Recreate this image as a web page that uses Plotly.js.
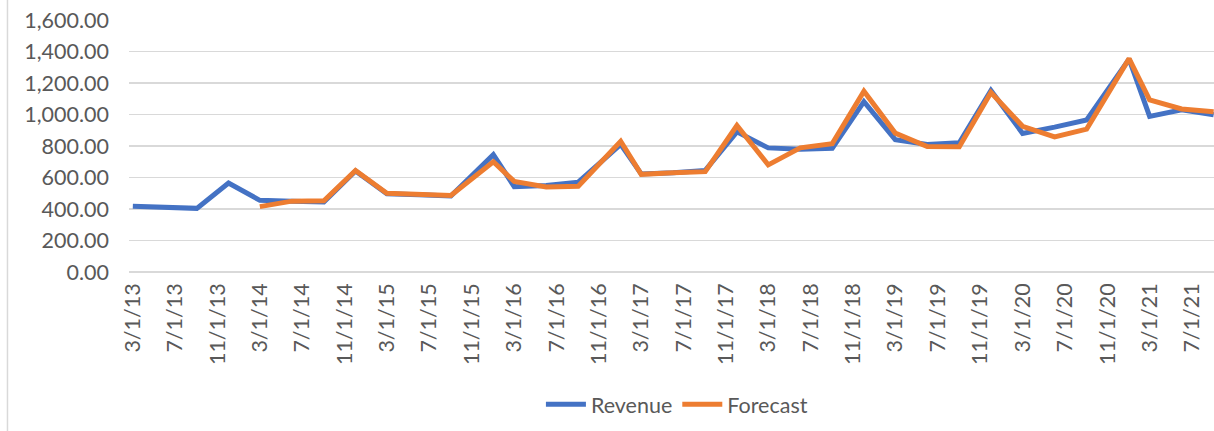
<!DOCTYPE html>
<html>
<head>
<meta charset="utf-8">
<script src="https://cdn.plot.ly/plotly-3.0.1.min.js"></script>
<style>
  html, body { margin: 0; padding: 0; background: #ffffff; overflow: hidden; }
  #chart { width: 1214px; height: 431px; }
</style>
</head>
<body>
<div id="chart"></div>
<script>
// ---- data ----
const dates = [
  '2013-03-01','2013-06-01','2013-09-01','2013-12-01',
  '2014-03-01','2014-06-01','2014-09-01','2014-12-01',
  '2015-03-01','2015-06-01','2015-09-01','2016-01-01',
  '2016-03-01','2016-06-01','2016-09-01','2017-01-01',
  '2017-03-01','2017-06-01','2017-09-01','2017-12-01',
  '2018-03-01','2018-06-01','2018-09-01','2018-12-01',
  '2019-03-01','2019-06-01','2019-09-01','2019-12-01',
  '2020-03-01','2020-06-01','2020-09-01','2021-01-01',
  '2021-03-01','2021-06-01','2021-09-01'
];
const revenue = [
  417, 412, 404, 565,
  455, 450, 445, 641,
  497, 490, 482, 745,
  542, 550, 570, 810,
  622, 630, 645, 890,
  788, 780, 785, 1082,
  840, 810, 820, 1152,
  880, 920, 965, 1352,
  988, 1030, 998
];
const forecast = [
  null, null, null, null,
  415, 450, 452, 645,
  500, 492, 486, 700,
  575, 540, 545, 830,
  620, 630, 637, 930,
  680, 788, 815, 1148,
  882, 797, 795, 1140,
  925, 858, 907, 1355,
  1093, 1035, 1018
];
const tickLabels = [
  '3/1/13','7/1/13','11/1/13',
  '3/1/14','7/1/14','11/1/14',
  '3/1/15','7/1/15','11/1/15',
  '3/1/16','7/1/16','11/1/16',
  '3/1/17','7/1/17','11/1/17',
  '3/1/18','7/1/18','11/1/18',
  '3/1/19','7/1/19','11/1/19',
  '3/1/20','7/1/20','11/1/20',
  '3/1/21','7/1/21'
];
const seriesNames = ['Revenue', 'Forecast'];

// tick positions derived from the tick labels (M/D/YY)
const tickVals = tickLabels.map(function (s) {
  const p = s.split('/');
  const mm = ('0' + p[0]).slice(-2);
  const dd = ('0' + p[1]).slice(-2);
  return '20' + p[2] + '-' + mm + '-' + dd;
});

const FONT = 'Lato, "Open Sans", sans-serif';
const GREY = '#595959';
const FS = 21.5;

const traces = [
  {
    x: dates, y: revenue, name: seriesNames[0],
    type: 'scatter', mode: 'lines',
    line: { color: '#4472C4', width: 5 },
    hoverinfo: 'skip'
  },
  {
    x: dates, y: forecast, name: seriesNames[1],
    type: 'scatter', mode: 'lines', connectgaps: false,
    line: { color: '#ED7D31', width: 5 },
    hoverinfo: 'skip'
  }
];

const layout = {
  width: 1214, height: 431,
  margin: { l: 129, r: 0, t: 20, b: 159 },
  paper_bgcolor: '#ffffff',
  plot_bgcolor: '#ffffff',
  font: { family: FONT, size: FS, color: GREY },
  showlegend: true,
  legend: {
    orientation: 'h',
    x: 0.505, xanchor: 'center',
    y: -0.525, yanchor: 'middle',
    font: { family: FONT, size: FS, color: GREY },
    itemwidth: 40,
    traceorder: 'normal'
  },
  xaxis: {
    type: 'date',
    range: ['2013-02-18', '2021-09-02'],
    tickmode: 'array',
    tickvals: tickVals,
    ticktext: tickLabels,
    tickangle: -90,
    ticks: '',
    showgrid: false,
    zeroline: false,
    showline: false,
    ticklabelstandoff: 6,
    tickfont: { family: FONT, size: FS, color: GREY },
    fixedrange: true
  },
  yaxis: {
    range: [0, 1600],
    dtick: 200,
    tick0: 0,
    tickformat: ',.2f',
    ticks: '',
    showgrid: true,
    gridcolor: '#d9d9d9',
    gridwidth: 1.6,
    zeroline: true,
    zerolinecolor: '#d9d9d9',
    zerolinewidth: 1.6,
    showline: false,
    ticklabelstandoff: 19,
    tickfont: { family: FONT, size: FS, color: GREY },
    fixedrange: true
  },
  shapes: [
    {
      type: 'line', xref: 'paper', yref: 'paper',
      x0: -0.112, x1: -0.112, y0: -0.7, y1: 1.2,
      line: { color: '#d9d9d9', width: 1.5 }
    }
  ]
};

Plotly.newPlot('chart', traces, layout, { displayModeBar: false, staticPlot: true });
</script>
</body>
</html>
